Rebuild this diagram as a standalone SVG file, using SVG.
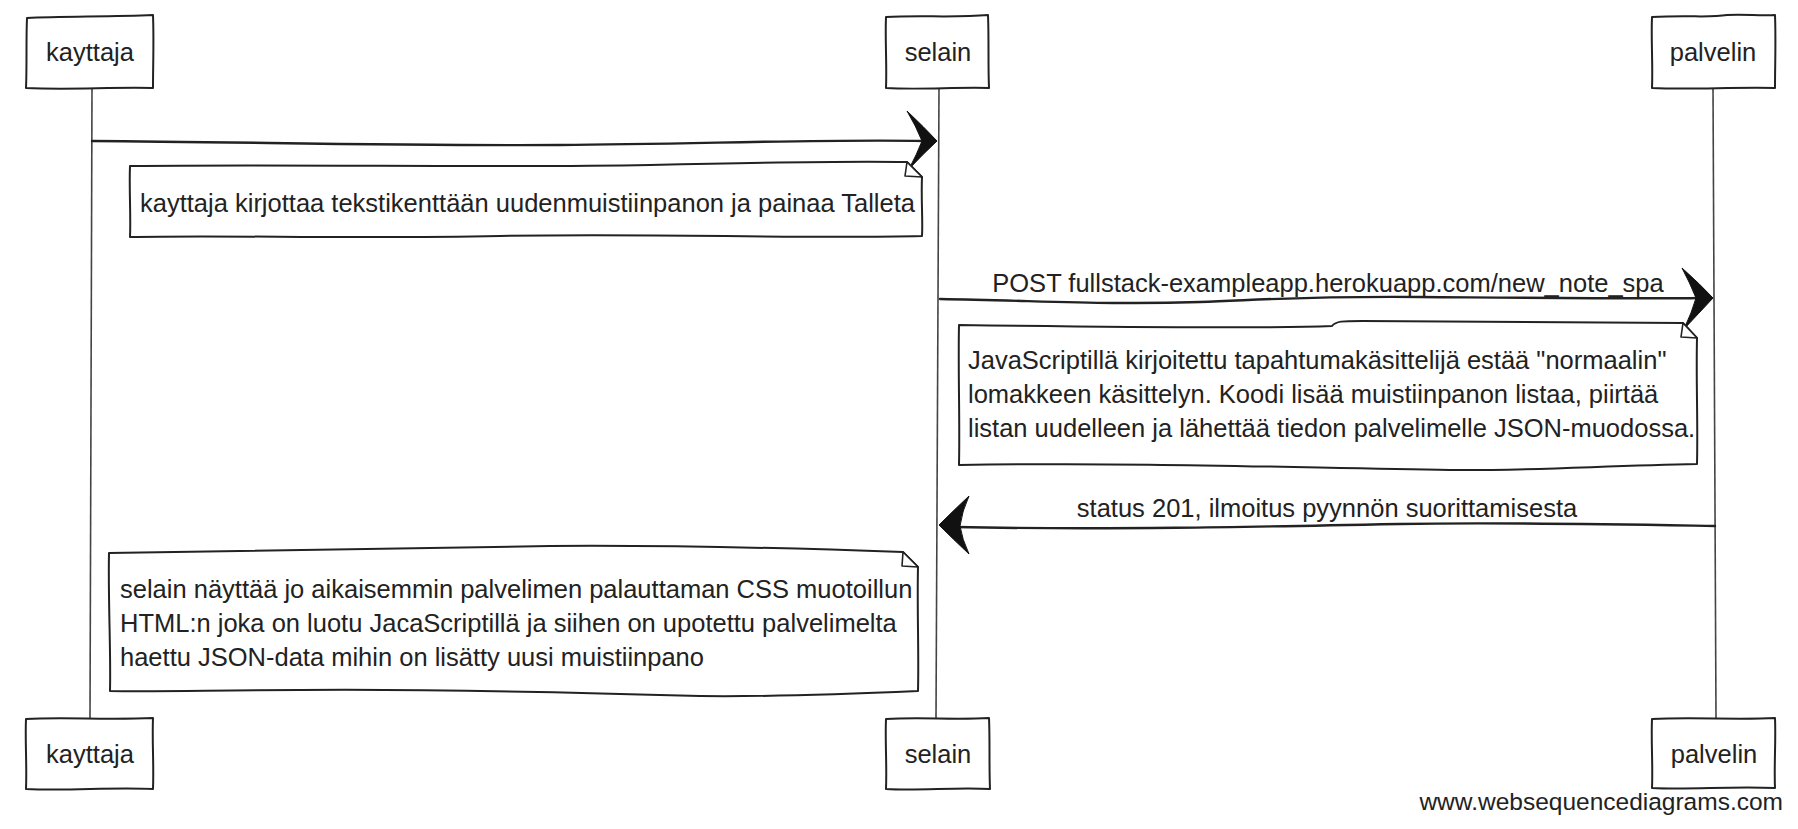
<svg xmlns="http://www.w3.org/2000/svg" width="1798" height="829" viewBox="0 0 1798 829">
<defs>
<style>
.box{fill:#fff;stroke:#222;stroke-width:2;stroke-linejoin:round}
.life{fill:none;stroke:#444;stroke-width:1.6}
.msg{fill:none;stroke:#222;stroke-width:2.4;stroke-linecap:round}
.head{fill:#111;stroke:#111;stroke-width:1}
.fold{fill:#fff;stroke:#222;stroke-width:1.6;stroke-linejoin:round}
text{font-family:"Liberation Sans",Arial,Helvetica,sans-serif;font-size:25.5px;fill:#222}
.c{text-anchor:middle}
.wm{font-size:24.5px;text-anchor:end}
</style>
</defs>
<rect width="1798" height="829" fill="#fff"/>

<g id="lifelines">
<path class="life" d="M92,88 L90,718"/>
<path class="life" d="M939,88 L936,718"/>
<path class="life" d="M1713,88 L1716,718"/>
</g>

<g id="connectors">
<g id="msg1">
<path class="msg" d="M92,141 C250,142 400,146 560,145 C700,144 820,139 924,141"/>
<path class="head" d="M907,111 Q924,127 937,141 Q922,155 909,169 Q917,154 922,141 Q916,126 907,111 Z"/>
</g>
<g id="msg2">
<path class="msg" d="M940,299 C1050,301 1110,305 1200,302 C1260,300 1300,296 1420,297 C1550,298 1650,299 1700,298"/>
<path class="head" d="M1682,268 Q1700,284 1713,298 Q1699,313 1684,329 Q1692,312 1696,298 Q1690,283 1682,268 Z"/>
<text class="c" x="1328" y="292">POST fullstack-exampleapp.herokuapp.com/new_note_spa</text>
</g>
<g id="msg3">
<path class="msg" d="M1715,526 C1600,524 1500,522 1400,524 C1250,527 1100,530 955,527"/>
<path class="head" d="M969,496 Q952,512 939,525 Q953,539 969,554 Q962,539 960,526 Q962,511 969,496 Z"/>
<text class="c" x="1327" y="517">status 201, ilmoitus pyynnön suorittamisesta</text>
</g>
</g>

<g id="kayttaja-top">
<path class="box" d="M27,18 C60,16 110,17 153,15 C154,40 153,65 153,88 C110,87 70,90 26,88 C27,65 26,40 27,18 Z"/>
<text class="c" x="90" y="61">kayttaja</text>
</g>
<g id="selain-top">
<path class="box" d="M886,17 C920,15 955,18 988,15 C989,40 988,65 989,88 C955,87 920,90 886,88 C887,65 885,40 886,17 Z"/>
<text class="c" x="938" y="61">selain</text>
</g>
<g id="palvelin-top">
<path class="box" d="M1652,17 C1690,15 1710,18 1727,15 C1745,14 1760,16 1775,15 C1776,40 1775,65 1775,88 C1730,87 1690,90 1652,88 C1653,65 1651,40 1652,17 Z"/>
<text class="c" x="1713" y="61">palvelin</text>
</g>

<g id="note1">
<path class="box" d="M130,166 C300,164 500,168 650,165 C780,162 860,161 907,162 L922,177 C921,200 923,220 922,236 C800,239 650,233 500,236 C350,239 230,235 130,237 C131,215 129,190 130,166 Z"/>
<path class="fold" d="M907,162 L905,176 L922,177 Z"/>
<text x="140" y="212">kayttaja kirjottaa tekstikenttään uudenmuistiinpanon ja painaa Talleta</text>
</g>

<g id="note2">
<path class="box" d="M959,325 C1100,327 1250,329 1332,326 C1336,321 1342,321 1362,321 C1500,321 1620,322 1683,323 L1697,338 C1696,380 1698,420 1697,464 C1600,466 1520,471 1450,470 C1300,468 1150,462 959,465 C960,420 958,370 959,325 Z"/>
<path class="fold" d="M1683,323 L1681,337 L1697,338 Z"/>
<text x="968" y="369">JavaScriptillä kirjoitettu tapahtumakäsittelijä estää "normaalin"</text>
<text x="968" y="403">lomakkeen käsittelyn. Koodi lisää muistiinpanon listaa, piirtää</text>
<text x="968" y="437">listan uudelleen ja lähettää tiedon palvelimelle JSON-muodossa.</text>
</g>

<g id="note3">
<path class="box" d="M109,553 C250,551 400,549 550,546 C700,545 820,549 903,552 L918,567 C917,610 919,650 918,691 C850,694 780,697 700,696 C600,693 450,689 300,690 C220,690 160,692 110,691 C111,650 108,600 109,553 Z"/>
<path class="fold" d="M903,552 L902,566 L918,567 Z"/>
<text x="120" y="598">selain näyttää jo aikaisemmin palvelimen palauttaman CSS muotoillun</text>
<text x="120" y="632">HTML:n joka on luotu JacaScriptillä ja siihen on upotettu palvelimelta</text>
<text x="120" y="666">haettu JSON-data mihin on lisätty uusi muistiinpano</text>
</g>

<g id="kayttaja-bottom">
<path class="box" d="M26,719 C60,717 110,720 153,718 C152,740 154,765 153,789 C110,787 70,791 26,789 C27,765 25,740 26,719 Z"/>
<text class="c" x="90" y="763">kayttaja</text>
</g>
<g id="selain-bottom">
<path class="box" d="M886,719 C920,717 955,720 989,718 C990,740 989,765 990,789 C955,787 920,791 886,789 C887,765 885,740 886,719 Z"/>
<text class="c" x="938" y="763">selain</text>
</g>
<g id="palvelin-bottom">
<path class="box" d="M1652,719 C1690,717 1740,720 1775,718 C1776,740 1774,765 1775,788 C1730,786 1690,790 1652,788 C1653,765 1651,740 1652,719 Z"/>
<text class="c" x="1714" y="763">palvelin</text>
</g>

<text class="wm" x="1783" y="810">www.websequencediagrams.com</text>
</svg>
